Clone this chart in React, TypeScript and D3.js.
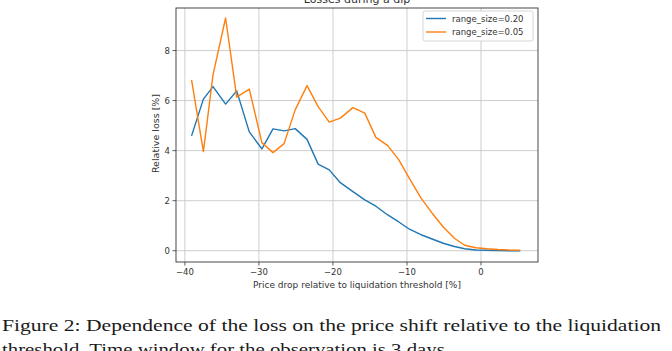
import React from 'react';
import * as d3 from 'd3';

// price drop relative to liquidation threshold [%]
const priceDrop = [
  -39.1, -37.5, -36.2, -34.5, -33.0, -31.3, -29.6, -28.1, -26.6, -25.1,
  -23.5, -22.0, -20.5, -19.0, -17.3, -15.7, -14.2, -12.6, -11.1, -9.6,
  -8.1, -6.6, -5.1, -3.6, -2.2, -0.7, 0.8, 2.3, 3.8, 5.3,
];
const lossRange020 = [
  4.59, 6.06, 6.56, 5.86, 6.39, 4.75, 4.07, 4.87, 4.79, 4.88,
  4.45, 3.46, 3.23, 2.72, 2.36, 2.03, 1.78, 1.43, 1.15, 0.85,
  0.64, 0.47, 0.3, 0.17, 0.08, 0.03, 0.02, 0.01, 0.0, 0.0,
];
const lossRange005 = [
  6.83, 3.96, 7.03, 9.3, 6.14, 6.46, 4.32, 3.92, 4.28, 5.63,
  6.6, 5.76, 5.14, 5.3, 5.72, 5.5, 4.53, 4.2, 3.63, 2.85,
  2.1, 1.5, 0.95, 0.5, 0.22, 0.12, 0.08, 0.05, 0.03, 0.02,
];
const seriesNames = ['range_size=0.20', 'range_size=0.05'];
const seriesColors = ['#1f77b4', '#ff7f0e'];
const xTicks = [-40, -30, -20, -10, 0];
const yTicks = [0, 2, 4, 6, 8];

const App = () => {
  const width = 672;
  const height = 351;
  const plot = { left: 176, right: 538, top: 8, bottom: 262 };

  const x = d3.scaleLinear().domain([-41.2, 7.7]).range([plot.left, plot.right]);
  const y = d3.scaleLinear().domain([-0.45, 9.7]).range([plot.bottom, plot.top]);

  const line = d3
    .line<number>()
    .x((_, i) => x(priceDrop[i]))
    .y((d) => y(d));

  const series = [lossRange020, lossRange005];
  const font = 'DejaVu Sans, sans-serif';
  const capFont = 'Liberation Serif, serif';
  const midX = (plot.left + plot.right) / 2;

  return (
    <svg
      width={width}
      height={height}
      style={{ position: 'absolute', left: 0, top: 0, background: '#fff' }}
    >
      <rect width={width} height={height} fill="#fff" />
      {/* grid */}
      {xTicks.map((t) => (
        <line key={'gx' + t} x1={x(t)} x2={x(t)} y1={plot.top} y2={plot.bottom} stroke="#c8c8c8" strokeWidth={0.9} />
      ))}
      {yTicks.map((t) => (
        <line key={'gy' + t} x1={plot.left} x2={plot.right} y1={y(t)} y2={y(t)} stroke="#c8c8c8" strokeWidth={0.9} />
      ))}

      {series.map((s, i) => (
        <path key={i} d={line(s) ?? ''} fill="none" stroke={seriesColors[i]} strokeWidth={1.4} strokeLinejoin="round" />
      ))}

      <rect
        x={plot.left}
        y={plot.top}
        width={plot.right - plot.left}
        height={plot.bottom - plot.top}
        fill="none"
        stroke="#333"
        strokeWidth={0.9}
      />

      {/* x axis */}
      {xTicks.map((t) => (
        <g key={'tx' + t}>
          <line x1={x(t)} x2={x(t)} y1={plot.bottom} y2={plot.bottom + 3.5} stroke="#333" strokeWidth={0.8} />
          <text x={x(t)} y={plot.bottom + 13} textAnchor="middle" fontFamily={font} fontSize={8.5} fill="#333">
            {t < 0 ? '\u2212' + Math.abs(t) : t}
          </text>
        </g>
      ))}
      <text x={midX} y={plot.bottom + 26} textAnchor="middle" fontFamily={font} fontSize={9} fill="#333">
        Price drop relative to liquidation threshold [%]
      </text>

      {/* y axis */}
      {yTicks.map((t) => (
        <g key={'ty' + t}>
          <line x1={plot.left - 3.5} x2={plot.left} y1={y(t)} y2={y(t)} stroke="#333" strokeWidth={0.8} />
          <text x={plot.left - 6} y={y(t) + 3} textAnchor="end" fontFamily={font} fontSize={8.5} fill="#333">
            {t}
          </text>
        </g>
      ))}
      <text
        transform="translate(158.5,133.5) rotate(-90)"
        textAnchor="middle"
        fontFamily={font}
        fontSize={9.5}
        fill="#333"
      >
        Relative loss [%]
      </text>

      {/* title, cut at the top */}
      <text x={midX} y={3} textAnchor="middle" fontFamily={font} fontSize={11} fill="#333">
        Losses during a dip
      </text>

      {/* legend */}
      <g>
        <rect x={423} y={11} width={110} height={30} rx={2} fill="#fff" stroke="#ccc" strokeWidth={0.8} />
        {seriesNames.map((n, i) => (
          <g key={n}>
            <line x1={426} x2={446} y1={18.5 + i * 13.5} y2={18.5 + i * 13.5} stroke={seriesColors[i]} strokeWidth={1.4} />
            <text x={452} y={21.5 + i * 13.5} fontFamily={font} fontSize={8.5} fill="#333">
              {n}
            </text>
          </g>
        ))}
      </g>

      {/* caption */}
      <text x={2} y={330.5} fontFamily={capFont} fontSize={16.5} fill="#1a1a1a" textLength={659} lengthAdjust="spacingAndGlyphs">
        Figure 2: Dependence of the loss on the price shift relative to the liquidation
      </text>
      <text x={2} y={355} fontFamily={capFont} fontSize={16.5} fill="#1a1a1a" textLength={448} lengthAdjust="spacingAndGlyphs">
        threshold. Time window for the observation is 3 days.
      </text>
    </svg>
  );
};

export default App;
